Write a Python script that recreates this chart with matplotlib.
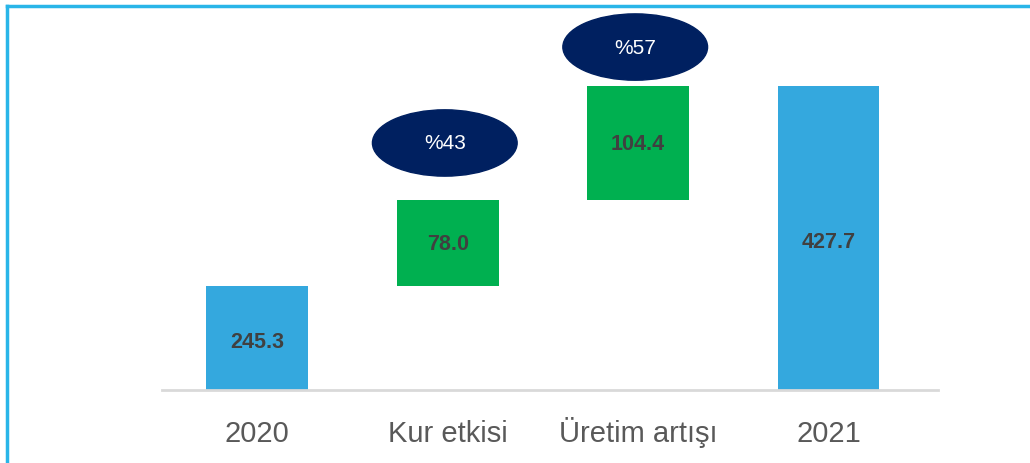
import matplotlib.pyplot as plt
from matplotlib.patches import Ellipse
from matplotlib.lines import Line2D

categories = ['2020', 'Kur etkisi', 'Üretim artışı', '2021']
values = [245.3, 78.0, 104.4, 427.7]
is_total = [True, False, False, True]
shares = [None, '%43', '%57', None]

blue = '#34A8DE'
green = '#00B050'
navy = '#002060'
y_floor = 150.4

fig = plt.figure(figsize=(10.3, 4.64), dpi=100)
ax = fig.add_axes([162 / 1030, 73 / 464, 776 / 1030, 381 / 464])

# waterfall: floating steps start at the running total
bottoms = []
running = 0
for v, tot in zip(values, is_total):
    if tot:
        bottoms.append(0)
        running = v
    else:
        bottoms.append(running)
        running += v

x = range(len(categories))
colors = [blue if t else green for t in is_total]
ax.bar(x, values, bottom=bottoms, width=0.535, color=colors, zorder=2)

# value labels in the middle of the visible part of each bar
for xi, v, b in zip(x, values, bottoms):
    lo = max(b, y_floor)
    ax.text(xi, (lo + b + v) / 2 - (3 if b == 0 else 0), f'{v:.1f}',
            ha='center', va='center', fontsize=15.5, fontweight='bold',
            color='#404040', family='Liberation Sans', zorder=3)

# share bubbles above the step bars
offsets = [0, 52.4, 35.5, 0]
for xi, v, b, s, off in zip(x, values, bottoms, shares, offsets):
    if s is None:
        continue
    cy = b + v + off
    ax.add_patch(Ellipse((xi - 0.015, cy), 0.76, 60.5, color=navy, zorder=3))
    ax.text(xi - 0.015, cy, s, ha='center', va='center', fontsize=15,
            color='white', family='Liberation Sans', zorder=4)

ax.set_xlim(-0.5, 3.575)
ax.set_ylim(y_floor, 497.9)
ax.set_xticks(list(x))
ax.set_xticklabels(categories, fontsize=21, color='#595959',
                   family='Liberation Sans', va='baseline')
ax.tick_params(axis='x', length=0, pad=37)
ax.set_yticks([])
for side in ['top', 'right', 'left']:
    ax.spines[side].set_visible(False)
ax.spines['bottom'].set_color('#D9D9D9')
ax.spines['bottom'].set_linewidth(2)

# frame lines on top and left of the figure
border = '#29B5E8'
fig.add_artist(Line2D([7 / 1030, 1], [1 - 6.5 / 464] * 2, color=border, lw=2.5))
fig.add_artist(Line2D([7 / 1030] * 2, [0, 1 - 6.5 / 464], color=border, lw=2.5))

fig.savefig('out.png', dpi=100)
